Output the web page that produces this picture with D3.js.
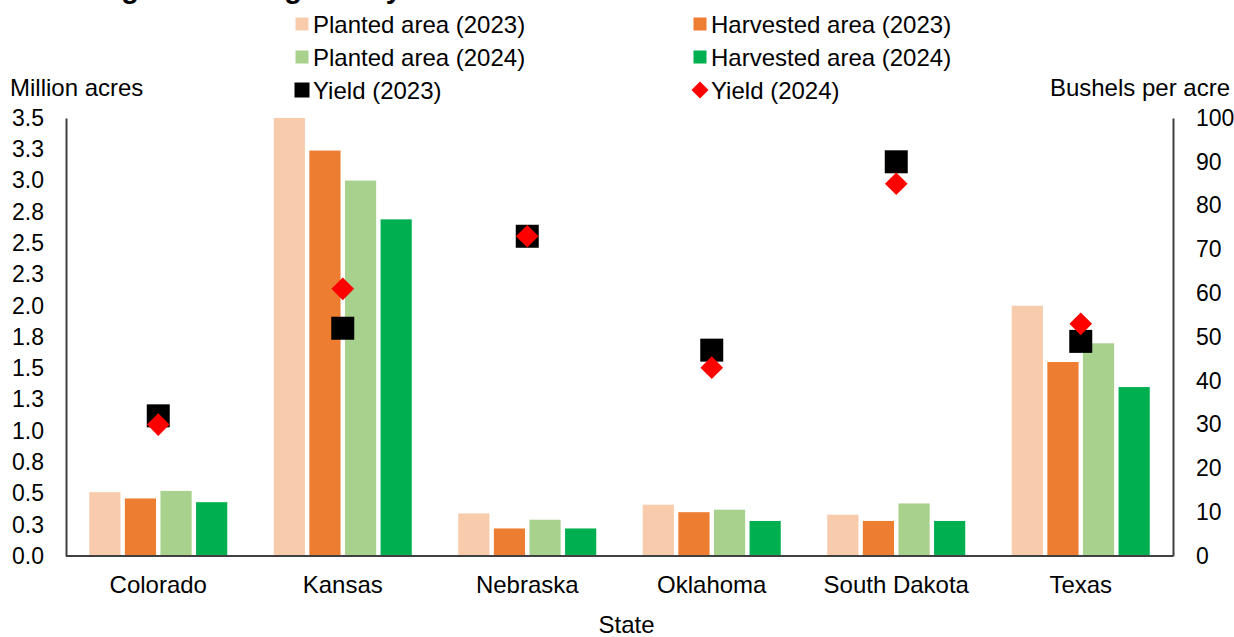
<!DOCTYPE html>
<html>
<head>
<meta charset="utf-8">
<script src="https://cdn.jsdelivr.net/npm/d3@7"></script>
<style>
  html, body { margin: 0; padding: 0; background: #fff; }
  svg { display: block; font-family: "Liberation Sans", Arial, sans-serif; }
</style>
</head>
<body>
<svg id="chart" width="1234" height="637"></svg>
<script>
// ---- data ----
const states = ["Colorado", "Kansas", "Nebraska", "Oklahoma", "South Dakota", "Texas"];
const plantedArea2023   = [0.51, 3.50, 0.34, 0.41, 0.33, 2.00];   // million acres
const harvestedArea2023 = [0.46, 3.24, 0.22, 0.35, 0.28, 1.55];
const plantedArea2024   = [0.52, 3.00, 0.29, 0.37, 0.42, 1.70];
const harvestedArea2024 = [0.43, 2.69, 0.22, 0.28, 0.28, 1.35];
const yield2023 = [32, 52, 73, 47, 90, 49];                      // bushels per acre
const yield2024 = [30, 61, 73, 43, 85, 53];

const leftTickValues  = [0, 0.25, 0.5, 0.75, 1, 1.25, 1.5, 1.75, 2, 2.25, 2.5, 2.75, 3, 3.25, 3.5];
const leftTickLabels  = ["0.0","0.3","0.5","0.8","1.0","1.3","1.5","1.8","2.0","2.3","2.5","2.8","3.0","3.3","3.5"];
const rightTickValues = [0, 10, 20, 30, 40, 50, 60, 70, 80, 90, 100];

const barSeries = [
  { name: "Planted area (2023)",   values: plantedArea2023,   color: "#F8CBAD" },
  { name: "Harvested area (2023)", values: harvestedArea2023, color: "#ED7D31" },
  { name: "Planted area (2024)",   values: plantedArea2024,   color: "#A9D18E" },
  { name: "Harvested area (2024)", values: harvestedArea2024, color: "#00B050" }
];

// ---- layout ----
const svg = d3.select("#chart");
const plot = { left: 66, right: 1173, top: 118, bottom: 556 };
const axisColor = "#404040";

const x0 = d3.scaleBand().domain(states).range([plot.left, plot.right])
  .paddingInner(0.252).paddingOuter(0.126);
const x1 = d3.scaleBand().domain(barSeries.map(s => s.name)).range([0, x0.bandwidth()])
  .paddingInner(0.124);
const yLeft  = d3.scaleLinear().domain([0, 3.5]).range([plot.bottom, plot.top]);
const yRight = d3.scaleLinear().domain([0, 100]).range([plot.bottom, plot.top]);

// title (sits above the frame)
svg.append("text")
  .attr("x", 73).attr("y", -2)
  .attr("font-size", 29).attr("font-weight", "bold").attr("fill", "#000")
  .text("Sorghum acreage and yield");

// bars
barSeries.forEach(s => {
  svg.append("g").selectAll("rect")
    .data(states.map((st, i) => ({ state: st, value: s.values[i] })))
    .join("rect")
    .attr("x", d => x0(d.state) + x1(s.name))
    .attr("width", x1.bandwidth())
    .attr("y", d => yLeft(d.value))
    .attr("height", d => yLeft(0) - yLeft(d.value))
    .attr("fill", s.color);
});

// axes
const gLeft = svg.append("g").attr("transform", `translate(${plot.left},0)`)
  .call(d3.axisLeft(yLeft).tickValues(leftTickValues)
    .tickFormat((d, i) => leftTickLabels[i]).tickSize(0).tickPadding(22));
const gRight = svg.append("g").attr("transform", `translate(${plot.right},0)`)
  .call(d3.axisRight(yRight).tickValues(rightTickValues).tickSize(0).tickPadding(23));
const gBottom = svg.append("g").attr("transform", `translate(0,${plot.bottom})`)
  .call(d3.axisBottom(x0).tickSize(0).tickPadding(20));

[gLeft, gRight, gBottom].forEach(g => {
  g.select(".domain").attr("stroke", axisColor).attr("stroke-width", 2);
  g.selectAll("text").attr("font-size", 23).attr("fill", "#000")
    .attr("font-family", "'Liberation Sans', Arial, sans-serif");
});
gBottom.selectAll("text").attr("font-size", 24);
gBottom.select(".domain").attr("d", `M${plot.left},0H${plot.right}`);

// yield markers
const squareSym  = d3.symbol(d3.symbolSquare, 23 * 23);
const diamondSym = d3.symbol(d3.symbolSquare, 16 * 16);
const cx = st => x0(st) + x0.bandwidth() / 2;

svg.append("g").selectAll("path")
  .data(states.map((st, i) => ({ state: st, value: yield2023[i] })))
  .join("path")
  .attr("d", squareSym)
  .attr("transform", d => `translate(${cx(d.state)},${yRight(d.value)})`)
  .attr("fill", "#000");

svg.append("g").selectAll("path")
  .data(states.map((st, i) => ({ state: st, value: yield2024[i] })))
  .join("path")
  .attr("d", diamondSym)
  .attr("transform", d => `translate(${cx(d.state)},${yRight(d.value)}) rotate(45)`)
  .attr("fill", "#FF0000");

// axis titles
svg.append("text").attr("x", 10).attr("y", 96).attr("font-size", 24).text("Million acres");
svg.append("text").attr("x", 1230).attr("y", 96).attr("font-size", 24)
  .attr("text-anchor", "end").text("Bushels per acre");
svg.append("text").attr("x", (plot.left + plot.right) / 2 + 7).attr("y", 633)
  .attr("font-size", 24).attr("text-anchor", "middle").text("State");

// legend
const legendItems = [
  { name: barSeries[0].name, kind: "bar", color: barSeries[0].color, col: 0, row: 0 },
  { name: barSeries[1].name, kind: "bar", color: barSeries[1].color, col: 1, row: 0 },
  { name: barSeries[2].name, kind: "bar", color: barSeries[2].color, col: 0, row: 1 },
  { name: barSeries[3].name, kind: "bar", color: barSeries[3].color, col: 1, row: 1 },
  { name: "Yield (2023)", kind: "square", color: "#000", col: 0, row: 2 },
  { name: "Yield (2024)", kind: "diamond", color: "#FF0000", col: 1, row: 2 }
];
const legendColX = [302, 700];
const legendRowY = [24, 57, 90];
const lg = svg.append("g");
legendItems.forEach(it => {
  const mx = legendColX[it.col], my = legendRowY[it.row];
  if (it.kind === "bar") {
    lg.append("rect").attr("x", mx - 6.5).attr("y", my - 6.5)
      .attr("width", 13).attr("height", 13).attr("fill", it.color);
  } else if (it.kind === "square") {
    lg.append("path").attr("d", d3.symbol(d3.symbolSquare, 15 * 15))
      .attr("transform", `translate(${mx},${my})`).attr("fill", it.color);
  } else {
    lg.append("path").attr("d", d3.symbol(d3.symbolSquare, 12 * 12))
      .attr("transform", `translate(${mx},${my}) rotate(45)`).attr("fill", it.color);
  }
  lg.append("text").attr("x", mx + 11).attr("y", my + 8.5)
    .attr("font-size", 24).attr("fill", "#000").text(it.name);
});
</script>
</body>
</html>
